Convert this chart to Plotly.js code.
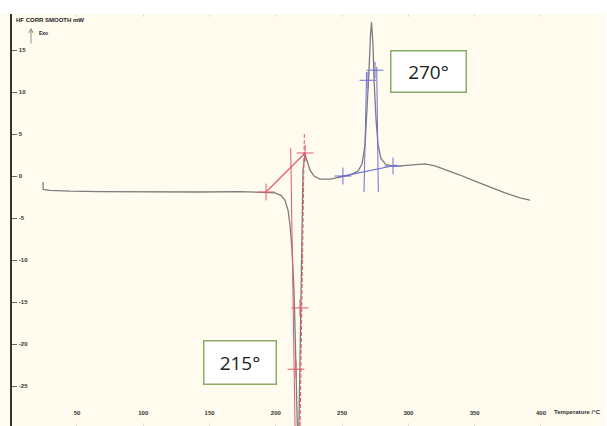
<!DOCTYPE html>
<html>
<head>
<meta charset="utf-8">
<script src="https://cdn.plot.ly/plotly-3.0.1.min.js"></script>
<style>html,body{margin:0;padding:0;background:#fff;}#chart{width:607px;height:426px;}</style>
</head>
<body>
<div id="chart"></div>
<script>
// DSC curve: temperature (°C) vs heat flow (mW)
const temp = [24.4, 24.5, 29.6, 44.7, 67.4, 105, 142.8, 172.9, 191.8, 199.4, 203.9, 206.9, 209.2, 210.7, 212.2, 213.7, 214.5, 215.2, 215.9, 216.7, 217.5, 219, 219.7, 220.5, 222, 223.5, 225.8, 228.8, 233.3, 240.9, 248.4, 255.9, 262, 265, 267.3, 268.8, 270.3, 271.4, 272.2, 273.3, 274.1, 275.6, 277.1, 279.3, 283.1, 289.9, 297.4, 305, 312.5, 320, 327.6, 338.9, 350.2, 361.5, 372.9, 384.2, 391.7];
const heatFlow = [-0.71, -1.6, -1.7, -1.8, -1.85, -1.9, -1.9, -1.85, -1.9, -2.0, -2.3, -2.9, -4.05, -5.83, -8.8, -13.6, -18.3, -24.3, -29, -33, -29, -14.8, -5.2, 0.7, 2.6, 1.9, 0.7, 0, -0.36, -0.36, -0.12, 0.12, 0.6, 1.43, 3.7, 7.9, 12.6, 16.8, 18.3, 15.6, 11.4, 6.7, 3.7, 2.1, 1.35, 1.15, 1.25, 1.4, 1.45, 1.2, 0.8, 0.12, -0.6, -1.3, -2.0, -2.6, -2.86];

// Evaluation construction lines (melting onset ~215°, crystallisation peak ~270°)
const redTangentT = [192.6, 222.1];
const redTangentV = [-1.9, 2.74];
const redLineAT = [211.2, 214.5];
const redLineAV = [3.3, -29.8];
const redLineBT = [221.5, 218.3];
const redLineBV = [5.0, -29.8];
const redCrossT = [192.6, 222.1, 218.2, 215.2];
const redCrossV = [-1.9, 2.74, -15.7, -23];

const blueBaseT = [246.8, 291.4];
const blueBaseV = [-0.12, 1.31];
const blueLineAT = [268.5, 266.5];
const blueLineAV = [12.4, -1.9];
const blueLineBT = [276.1, 277.3];
const blueLineBV = [13.0, -1.9];
const blueCrossT = [250.6, 288.4, 269.5, 274.8];
const blueCrossV = [0.0, 1.19, 11.4, 12.6];

const xTicks = [50, 100, 150, 200, 250, 300, 350, 400];
const yTicks = [-25, -20, -15, -10, -5, 0, 5, 10, 15];
const peakLabels = ['270°', '215°'];

const RED = '#e05a68';
const BLUE = '#6f6fd6';

const traces = [
  {x: temp, y: heatFlow, mode: 'lines', line: {color: '#7d7d7d', width: 1.3}, hoverinfo: 'skip'},
  {x: redTangentT, y: redTangentV, mode: 'lines', line: {color: RED, width: 1.2}},
  {x: redLineAT, y: redLineAV, mode: 'lines', line: {color: RED, width: 1}},
  {x: redLineBT, y: redLineBV, mode: 'lines', line: {color: RED, width: 1, dash: '4px,2px'}},
  {x: redCrossT, y: redCrossV, mode: 'markers', marker: {symbol: 'cross-thin', size: 12, line: {color: RED, width: 1}}},
  {x: blueBaseT, y: blueBaseV, mode: 'lines', line: {color: BLUE, width: 1.2}},
  {x: blueLineAT, y: blueLineAV, mode: 'lines', line: {color: BLUE, width: 1}},
  {x: blueLineBT, y: blueLineBV, mode: 'lines', line: {color: BLUE, width: 1}},
  {x: blueCrossT, y: blueCrossV, mode: 'markers', marker: {symbol: 'cross-thin', size: 12, line: {color: BLUE, width: 1}}}
];

// pixel -> paper helpers (plot area 12..605 x 14..426)
const L = 12, R = 605, T = 14, B = 426;
const px = v => (v - L) / (R - L);
const py = v => (B - v) / (B - T);

const layout = {
  width: 607, height: 426,
  margin: {l: L, r: 607 - R, t: T, b: 0},
  paper_bgcolor: '#ffffff',
  plot_bgcolor: '#fffbef',
  showlegend: false,
  xaxis: {
    range: [0.98, 448.3], tickvals: xTicks, ticktext: xTicks.map(String),
    showgrid: false, zeroline: false, showline: false,
    ticks: 'inside', ticklen: 3, tickcolor: '#e4e0d4', mirror: 'ticks',
    ticklabelposition: 'inside', ticklabelstandoff: 5,
    tickfont: {family: 'Liberation Sans', size: 6, color: '#333', weight: 'bold'}
  },
  yaxis: {
    range: [-29.76, 19.29], tickvals: yTicks, ticktext: yTicks.map(String),
    showgrid: false, zeroline: false, showline: true, linecolor: '#333', linewidth: 2,
    ticks: 'inside', ticklen: 5, tickcolor: '#666',
    ticklabelposition: 'inside',
    tickfont: {family: 'Liberation Sans', size: 6, color: '#333', weight: 'bold'}
  },
  shapes: [
    {type: 'rect', xref: 'paper', yref: 'paper', x0: px(0), x1: px(603), y0: py(426), y1: py(14), fillcolor: '#fffbef', line: {width: 0}, layer: 'below'}
  ],
  annotations: [
    {xref: 'paper', yref: 'paper', x: px(14), y: py(20), xanchor: 'left', yanchor: 'middle', showarrow: false,
     text: '<b>HF CORR SMOOTH mW</b>', font: {family: 'Liberation Sans', size: 6, color: '#222'}},
    {xref: 'paper', yref: 'paper', x: px(37), y: py(33), xanchor: 'left', yanchor: 'middle', showarrow: false,
     text: '<b>Exo</b>', font: {family: 'Liberation Sans', size: 5, color: '#222'}},
    {xref: 'paper', yref: 'paper', x: px(31), y: py(28), axref: 'pixel', ayref: 'pixel', ax: 0, ay: 17, showarrow: true,
     arrowhead: 5, arrowsize: 1, arrowwidth: 0.8, arrowcolor: '#777', text: ''},
    {xref: 'paper', yref: 'paper', x: px(552), y: py(412), xanchor: 'left', yanchor: 'middle', showarrow: false,
     text: '<b>Temperature /°C</b>', font: {family: 'Liberation Sans', size: 6, color: '#333'}},
    {xref: 'paper', yref: 'paper', x: px(428.5), y: py(71.5), xanchor: 'center', yanchor: 'middle', showarrow: false,
     text: peakLabels[0], width: 74, height: 40, borderpad: 0, borderwidth: 1.5, bordercolor: '#8aac68', bgcolor: '#ffffff',
     font: {family: 'Open Sans', size: 19, color: '#222'}},
    {xref: 'paper', yref: 'paper', x: px(240), y: py(362.5), xanchor: 'center', yanchor: 'middle', showarrow: false,
     text: peakLabels[1], width: 71, height: 42, borderpad: 0, borderwidth: 1.5, bordercolor: '#8aac68', bgcolor: '#ffffff',
     font: {family: 'Open Sans', size: 19, color: '#222'}}
  ]
};

Plotly.newPlot('chart', traces, layout, {staticPlot: true, displayModeBar: false});
</script>
</body>
</html>
